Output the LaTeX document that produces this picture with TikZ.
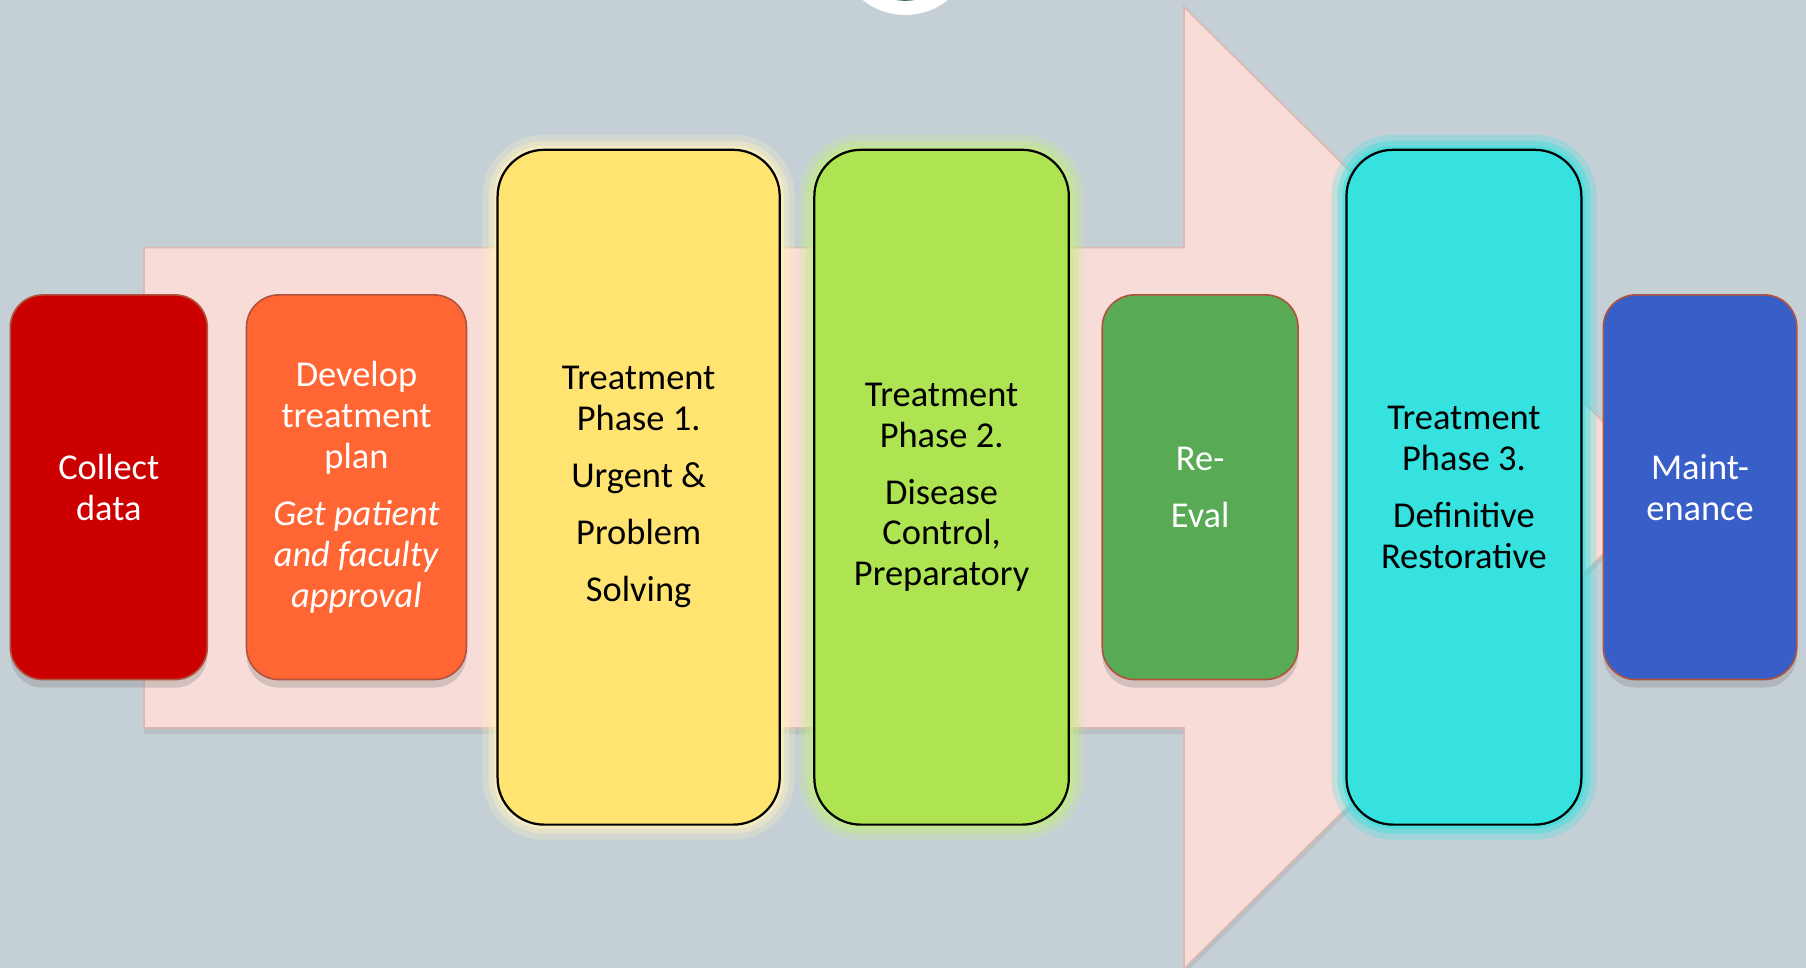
\documentclass[tikz,border=0pt]{standalone}
\usepackage{fontspec}
\setmainfont{Carlito}
\usepackage{tikz}
\usetikzlibrary{shadows, positioning}

\definecolor{slidebg}{HTML}{C5D0D6}
\definecolor{arrowpink}{HTML}{F7DCD8}
\definecolor{arrowedge}{HTML}{DDB8B1}
\definecolor{collectred}{HTML}{CC0000}
\definecolor{planorange}{HTML}{FF6633}
\definecolor{phaseyellow}{HTML}{FFE471}
\definecolor{phaselime}{HTML}{AEE451}
\definecolor{evalgreen}{HTML}{58AA54}
\definecolor{phasecyan}{HTML}{35E2E0}
\definecolor{maintblue}{HTML}{385FC8}
\definecolor{boxedge}{HTML}{B0533E}
\definecolor{logoteal}{HTML}{3A6E70}

\begin{document}
\begin{tikzpicture}[x=0.02cm,y=-0.02cm]
	\tikzstyle{shortbox}=[rectangle, rounded corners=16pt, draw=boxedge, line width=0.8pt, text=white, minimum height=6.68cm, inner sep=2pt, align=center, font=\fontsize{18}{20.2}\selectfont, drop shadow={opacity=0.3, shadow xshift=0pt, shadow yshift=-4pt}]
	\tikzstyle{tallbox}=[rectangle, rounded corners=23pt, draw=black, line width=1.1pt, text=black, minimum height=11.72cm, inner sep=2pt, align=center, font=\fontsize{18}{20.2}\selectfont]
	\tikzstyle{glow}=[preaction={draw=#1, draw opacity=0.25, line width=15pt}, preaction={draw=#1, draw opacity=0.4, line width=9pt}, preaction={draw=#1, draw opacity=0.6, line width=4pt}]
	
	% slide background
	\useasboundingbox (0,0) rectangle (1568,840);
	\fill[slidebg] (0,0) rectangle (1568,840);
	\fill[white] (786,-46) circle (1.18cm);
	\fill[logoteal] (786,-46) circle (0.935cm);
	
	% big arrow behind the steps
	\path[fill=arrowpink, draw=arrowedge, line width=0.8pt, drop shadow={opacity=0.2, shadow xshift=0pt, shadow yshift=-3pt}]
		(125,215) -- (1028,215) -- (1028,6) -- (1450,423.5) -- (1028,841) -- (1028,632) -- (125,632) -- cycle;
	
	\node[shortbox, fill=collectred, minimum width=3.42cm] (collect) at (94.5,423) {Collect\\data};
	\node[shortbox, fill=planorange, minimum width=3.82cm] (plan) at (309.5,423) {Develop\\treatment\\plan\\[8pt]\textit{Get patient}\\\textit{and faculty}\\\textit{approval}};
	\node[tallbox, glow=phaseyellow!45!white, fill=phaseyellow, minimum width=4.9cm] (phase1) at (554.5,423) {Treatment\\Phase 1.\\[8pt]Urgent \&\\[8pt]Problem\\[8pt]Solving};
	\node[tallbox, glow=phaselime!70!white, fill=phaselime, minimum width=4.42cm] (phase2) at (817.5,423) {Treatment\\Phase 2.\\[8pt]Disease\\Control,\\Preparatory};
	\node[shortbox, fill=evalgreen, minimum width=3.4cm] (reeval) at (1042,423) {Re-\\[8pt]Eval};
	\node[tallbox, glow=phasecyan, fill=phasecyan, minimum width=4.08cm] (phase3) at (1271,423) {Treatment\\Phase 3.\\[8pt]Definitive\\Restorative};
	\node[shortbox, fill=maintblue, minimum width=3.36cm] (maint) at (1476,423) {Maint-\\enance};
	
\end{tikzpicture}
\end{document}
